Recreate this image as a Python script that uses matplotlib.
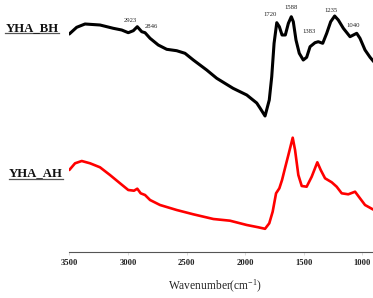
import matplotlib
matplotlib.use("Agg")
import matplotlib.pyplot as plt
from matplotlib.lines import Line2D

plt.rcParams["mathtext.fontset"] = "custom"
plt.rcParams["mathtext.rm"] = "Liberation Serif"
plt.rcParams["mathtext.it"] = "Liberation Serif:italic"
plt.rcParams["mathtext.bf"] = "Liberation Serif:bold"

# ---- data ----
bh_wn = [3500, 3437, 3366, 3238, 3125, 3053, 2997, 2954, 2920, 2882, 2854, 2811, 2741, 2669,
         2584, 2513, 2442, 2328, 2242, 2103, 1986, 1901, 1873, 1830, 1794, 1773, 1753, 1730,
         1708, 1685, 1657, 1631, 1606, 1589, 1566, 1538, 1504, 1475, 1446, 1404, 1376, 1338,
         1304, 1270, 1236, 1205, 1162, 1105, 1048, 1020, 977, 934, 900]
bh_val = [218.3, 225.0, 228.3, 227.3, 224.0, 222.3, 219.6, 221.6, 225.6, 220.6, 219.6, 214.0,
          207.3, 203.0, 201.6, 199.0, 192.3, 182.3, 174.0, 164.0, 157.3, 149.3, 144.3, 136.3,
          152.3, 175.6, 209.0, 229.6, 225.6, 217.3, 217.3, 229.0, 235.6, 230.6, 212.3, 199.0,
          192.3, 195.0, 205.6, 209.6, 210.6, 209.0, 219.0, 230.6, 236.3, 232.3, 224.0, 215.6,
          219.0, 214.0, 202.3, 195.0, 190.3]

ah_wn = [3500, 3451, 3394, 3323, 3238, 3153, 3067, 2997, 2948, 2920, 2891, 2854, 2811, 2726,
         2584, 2442, 2271, 2129, 1986, 1887, 1830, 1794, 1765, 1736, 1708, 1685, 1660, 1631,
         1594, 1574, 1546, 1517, 1475, 1432, 1384, 1355, 1318, 1261, 1219, 1176, 1120, 1062,
         1020, 977, 911, 900]
ah_val = [82.3, 89.0, 91.3, 89.0, 85.0, 77.3, 69.0, 62.3, 61.6, 63.6, 59.0, 57.3, 52.3, 47.3,
          42.3, 38.0, 33.3, 31.6, 27.3, 25.0, 23.5, 29.0, 40.6, 59.0, 64.0, 72.3, 84.0, 97.3,
          114.6, 102.3, 77.3, 66.3, 65.6, 75.6, 90.0, 82.3, 74.0, 70.0, 65.6, 59.0, 58.0, 60.6,
          54.0, 47.3, 43.0, 42.3]

peak_labels = ["2923", "2846", "1720", "1588", "1383", "1235", "1040"]
x_ticks = [3500, 3000, 2500, 2000, 1500, 1000]

W, H = 373, 298
fig = plt.figure(figsize=(W / 100, H / 100), dpi=100)

def fx(px):
    return px / W

def fy(py):
    return 1 - py / H

ax = fig.add_axes([fx(69.3), fy(252.3), 1 - fx(69.3), 252.3 / H])
ax.plot(bh_wn, bh_val, color="black", lw=2.2, solid_joinstyle="round", solid_capstyle="round")
ax.plot(ah_wn, ah_val, color="#ff0000", lw=1.9, solid_joinstyle="round", solid_capstyle="round")
ax.set_xlim(3500, 909)
ax.set_ylim(0, 252.3)

for s in ["left", "top", "right"]:
    ax.spines[s].set_visible(False)
ax.spines["bottom"].set_color("#555555")
ax.spines["bottom"].set_linewidth(0.8)
ax.set_yticks([])
ax.set_xticks(x_ticks)
ax.set_xticklabels([str(t) for t in x_ticks])
ax.tick_params(axis="x", direction="out", length=2, width=0.5, color="#cccccc", pad=2.5,
               labelsize=6.2, labelcolor="#222222")
for lab in ax.get_xticklabels():
    lab.set_fontfamily("Liberation Serif")
    lab.set_fontweight("bold")

# peak annotations (positions in pixels)
peak_pos = [(130, 20.7), (151.7, 26), (270, 15), (291, 7.3), (309, 31.7), (331, 10), (352.7, 25.7)]
for lab, (px, py) in zip(peak_labels, peak_pos):
    fig.text(fx(px), fy(py), lab, ha="center", va="center", fontsize=4.8,
             family="Liberation Serif", color="#222222")

# sample labels with underline
for name, (x0, x1, yb, yu) in {"YHA_BH": (5, 59, 31.0, 32.6),
                                "YHA_AH": (9.3, 62.7, 176.6, 178.6)}.items():
    fig.text(fx((x0 + x1) / 2), fy(yb), name, ha="center", va="baseline", fontsize=9.2,
             family="Liberation Serif", fontweight="bold", color="#111111")
    fig.add_artist(Line2D([fx(x0), fx(x1)], [fy(yu), fy(yu)], transform=fig.transFigure,
                          color="#555555", lw=0.9))

fig.text(fx(215), fy(286.7), r"Wavenumber(cm$^{\mathrm{-1}}$)", ha="center", va="center",
         fontsize=8.3, family="Liberation Serif", color="#222222")

fig.savefig("out.png", dpi=100)
